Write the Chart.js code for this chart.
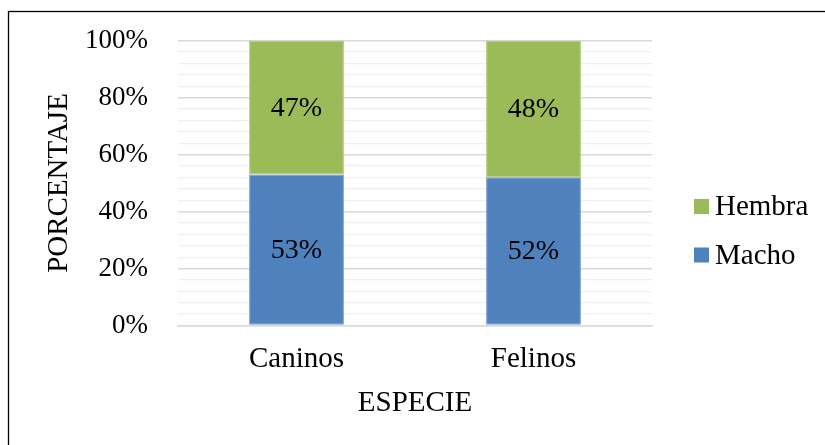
<!DOCTYPE html>
<html>
<head>
<meta charset="utf-8">
<script src="https://cdn.jsdelivr.net/npm/chart.js@4/dist/chart.umd.min.js"></script>
<style>
  html, body { margin: 0; padding: 0; background: #fff; }
  #wrap { width: 825px; height: 445px; position: relative; }
</style>
</head>
<body>
<div id="wrap"><canvas id="c" width="825" height="445"></canvas></div>
<script>
// Especies y porcentaje por sexo
const categories = ['Caninos', 'Felinos'];
const machoValues = [53, 52];
const hembraValues = [47, 48];
const seriesNames = ['Macho', 'Hembra'];
const seriesColors = ['#4F81BD', '#9BBB59'];
const seriesEdges = ['#6E98CC', '#ADC878'];
const axisTitles = { x: 'ESPECIE', y: 'PORCENTAJE' };

const FONT = "'Liberation Serif', 'Times New Roman', serif";

// Outer frame of the figure
const framePlugin = {
  id: 'frame',
  beforeDraw(chart) {
    const ctx = chart.ctx;
    ctx.save();
    ctx.fillStyle = '#fff';
    ctx.fillRect(0, 0, chart.width, chart.height);
    ctx.strokeStyle = '#000';
    ctx.lineWidth = 1.3;
    ctx.strokeRect(8.5, 11.5, chart.width + 50, chart.height + 50);
    ctx.restore();
  }
};

// Percentages printed in the middle of each segment
const segmentLabels = {
  id: 'segmentLabels',
  afterDatasetsDraw(chart) {
    const ctx = chart.ctx;
    ctx.save();
    ctx.font = '28px ' + FONT;
    ctx.fillStyle = '#000';
    ctx.textAlign = 'center';
    ctx.textBaseline = 'middle';
    chart.data.datasets.forEach((ds, di) => {
      const meta = chart.getDatasetMeta(di);
      meta.data.forEach((bar, i) => {
        const p = bar.getProps(['x', 'y', 'base'], true);
        ctx.fillText(ds.data[i] + '%', p.x, (p.y + p.base) / 2 + 1);
      });
    });
    ctx.restore();
  }
};

// Legend on the right, top entry = last series
const sideLegend = {
  id: 'sideLegend',
  afterDraw(chart) {
    const ctx = chart.ctx;
    const area = chart.chartArea;
    const x0 = area.right + 42;
    const yTop = 206.5;
    const gap = 48.5;
    const box = 15;
    ctx.save();
    ctx.font = '29px ' + FONT;
    ctx.textBaseline = 'middle';
    ctx.textAlign = 'left';
    const items = chart.data.datasets.map((d, i) => ({ label: d.label, color: d.backgroundColor })).reverse();
    items.forEach((it, k) => {
      const cy = yTop + k * gap;
      ctx.fillStyle = it.color;
      ctx.fillRect(x0, cy - box / 2, box, box);
      ctx.fillStyle = '#000';
      ctx.fillText(it.label, x0 + box + 6, cy + 1);
    });
    ctx.restore();
  }
};

new Chart(document.getElementById('c'), {
  type: 'bar',
  data: {
    labels: categories,
    datasets: [
      { label: seriesNames[0], data: machoValues, backgroundColor: seriesColors[0], borderColor: seriesEdges[0], borderWidth: 1, borderSkipped: false },
      { label: seriesNames[1], data: hembraValues, backgroundColor: seriesColors[1], borderColor: seriesEdges[1], borderWidth: 1, borderSkipped: false }
    ]
  },
  options: {
    responsive: false,
    animation: false,
    devicePixelRatio: 1,
    layout: { padding: { left: 0, right: 173, top: 40.5, bottom: 0 } },
    plugins: {
      legend: { display: false },
      tooltip: { enabled: false }
    },
    datasets: { bar: { barPercentage: 0.4, categoryPercentage: 1 } },
    scales: {
      x: {
        stacked: true,
        grid: { display: false, drawTicks: false },
        border: { display: true, color: '#D9D9D9', width: 1.5 },
        ticks: { color: '#000', font: { family: FONT, size: 29 }, padding: 16 },
        title: { display: true, text: axisTitles.x, color: '#000', font: { family: FONT, size: 29 }, padding: { top: 0, bottom: 24 } },
        afterFit(scale) { scale.height = 445 - 325.5; }
      },
      y: {
        stacked: true,
        min: 0,
        max: 100,
        border: { display: false },
        grid: {
          drawTicks: false,
          color: ctx => (Math.round(ctx.tick.value) % 20 === 0 ? '#D9D9D9' : '#F0F0F0'),
          lineWidth: ctx => (Math.round(ctx.tick.value) % 20 === 0 ? 1.5 : 1.2)
        },
        ticks: {
          stepSize: 4,
          autoSkip: false,
          color: '#000',
          padding: 30,
          font: { family: FONT, size: 27 },
          callback: v => (Math.round(v) % 20 === 0 ? Math.round(v) + '%' : '')
        },
        title: { display: true, text: axisTitles.y, color: '#000', font: { family: FONT, size: 29 }, padding: { top: 42, bottom: 0 } },
        afterFit(scale) {
          scale.width = 178;
          scale.paddingTop = 0;
          scale.paddingBottom = 0;
        }
      }
    }
  },
  plugins: [framePlugin, segmentLabels, sideLegend]
});
</script>
</body>
</html>
